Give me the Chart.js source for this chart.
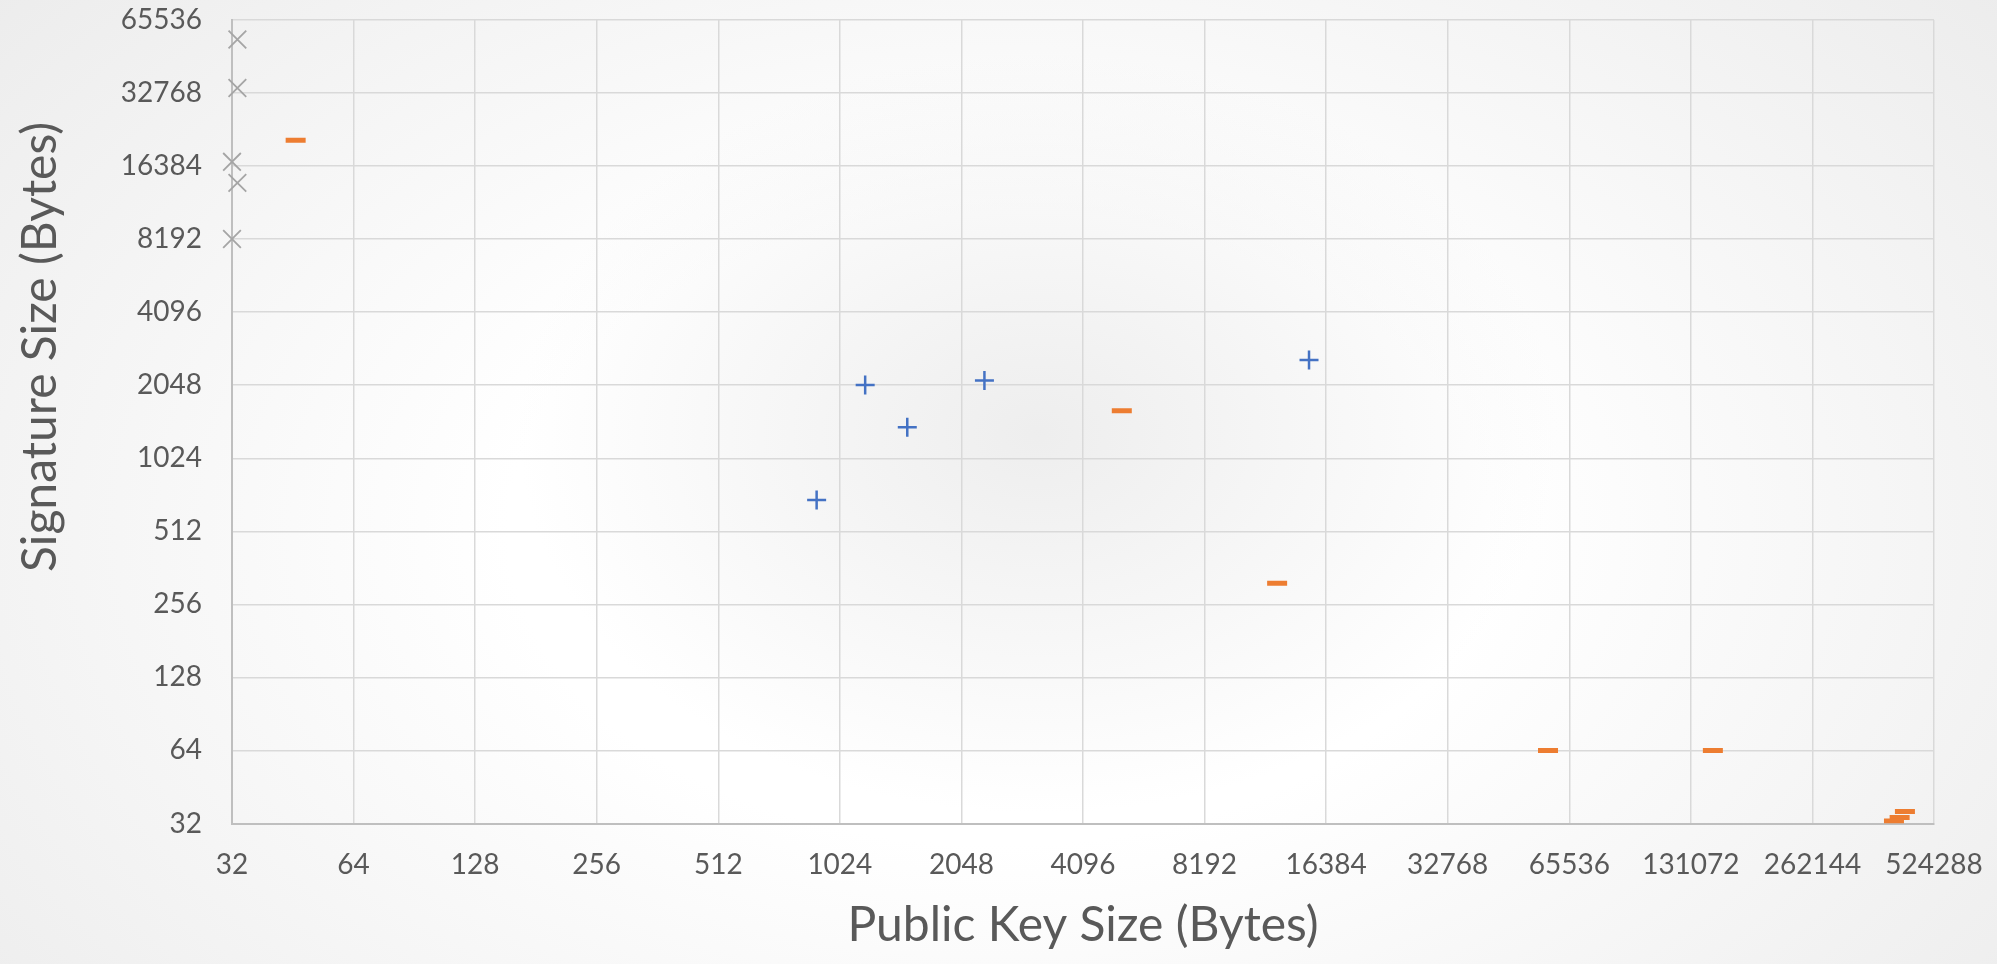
<!DOCTYPE html>
<html>
<head>
<meta charset="utf-8">
<script src="https://cdn.jsdelivr.net/npm/chart.js@4.4.1/dist/chart.umd.min.js"></script>
<style>
  html, body { margin: 0; padding: 0; }
  body {
    width: 1997px; height: 964px; overflow: hidden;
    background:
      radial-gradient(ellipse 520px 380px at 52% 45%, rgba(232,232,232,.75), rgba(232,232,232,0) 100%),
      radial-gradient(ellipse 1400px 900px at 50% 55%, #ffffff 35%, #eaeaea 100%);
  }
  #wrap { position: relative; width: 1997px; height: 964px; }
</style>
</head>
<body>
<div id="wrap"><canvas id="chart"></canvas></div>
<script>
// ── Datos ───────────────────────────────────────────
const X_TICKS = [32, 64, 128, 256, 512, 1024, 2048, 4096, 8192, 16384, 32768, 65536, 131072, 262144, 524288];
const Y_TICKS = [32, 64, 128, 256, 512, 1024, 2048, 4096, 8192, 16384, 32768, 65536];

const X_TITLE = 'Public Key Size (Bytes)';
const Y_TITLE = 'Signature Size (Bytes)';

// cruces azules
const blueX = [897, 1183, 1504, 2335, 14860];
const blueY = [689, 2051, 1376, 2144, 2602];

// guiones naranjas
const orangeX = [46, 5110, 12390, 58050, 148600, 444200, 431000, 417300];
const orangeY = [20930, 1608, 313, 64, 64, 35.9, 33.9, 32.8];

// aspas grises
const grayX = [33, 33, 32, 33, 32];
const grayY = [54470, 34400, 17060, 13970, 8208];

const pts = (xs, ys) => xs.map((x, i) => ({ x, y: ys[i] }));

const TEXT = '#595959';
const GRID = '#d9d9d9';

// título del eje Y, dibujado a mano (no está centrado en el área)
const yTitlePlugin = {
  id: 'yTitle',
  afterDraw(chart) {
    const ctx = chart.ctx;
    ctx.save();
    ctx.fillStyle = TEXT;
    ctx.font = '48px Lato';
    ctx.textAlign = 'center';
    ctx.textBaseline = 'middle';
    ctx.translate(41, 347);
    ctx.rotate(-Math.PI / 2);
    ctx.fillText(Y_TITLE, 0, 0);
    ctx.restore();
  }
};

new Chart(document.getElementById('chart').getContext('2d'), {
  type: 'scatter',
  data: {
    datasets: [
      {
        label: 'blue',
        data: pts(blueX, blueY),
        pointStyle: 'cross', pointRadius: 9.5, pointBorderWidth: 2.5,
        borderColor: '#4472c4', backgroundColor: '#4472c4',
      },
      {
        label: 'orange',
        data: pts(orangeX, orangeY),
        pointStyle: 'line', pointRadius: 10, pointBorderWidth: 5,
        borderColor: '#ed7d31', backgroundColor: '#ed7d31',
      },
      {
        label: 'gray',
        data: pts(grayX, grayY),
        pointStyle: 'crossRot', pointRadius: 12.5, pointBorderWidth: 1.8,
        borderColor: '#a5a5a5', backgroundColor: '#a5a5a5',
        clip: false,
      }
    ]
  },
  options: {
    responsive: true, maintainAspectRatio: false, animation: false,
    layout: { padding: { top: 20, right: 63, bottom: 0, left: 0 } },
    plugins: { legend: { display: false }, tooltip: { enabled: false } },
    scales: {
      x: {
        type: 'logarithmic', min: 32, max: 524288,
        afterBuildTicks: a => { a.ticks = X_TICKS.map(v => ({ value: v })); },
        afterFit: s => { s.height = 140.5; },
        grid: { color: GRID, lineWidth: 1.5, drawTicks: true, tickLength: 25, tickColor: 'transparent' },
        border: { color: '#bfbfbf', width: 2 },
        ticks: { color: TEXT, font: { family: 'Lato', size: 28 }, padding: 0,
                 autoSkip: false, maxRotation: 0, callback: v => String(v) },
        title: { display: true, text: X_TITLE, color: TEXT,
                 font: { family: 'Lato', size: 48 }, padding: { top: 0, bottom: 10 } }
      },
      y: {
        type: 'logarithmic', min: 32, max: 65536,
        afterBuildTicks: a => { a.ticks = Y_TICKS.map(v => ({ value: v })); },
        afterFit: s => { s.width = 232; },
        grid: { color: GRID, lineWidth: 1.5, drawTicks: true, tickLength: 30, tickColor: 'transparent' },
        border: { color: '#bfbfbf', width: 2 },
        ticks: { color: TEXT, font: { family: 'Lato', size: 28 }, padding: 0,
                 autoSkip: false, callback: v => String(v) }
      }
    }
  },
  plugins: [yTitlePlugin]
});
</script>
</body>
</html>
